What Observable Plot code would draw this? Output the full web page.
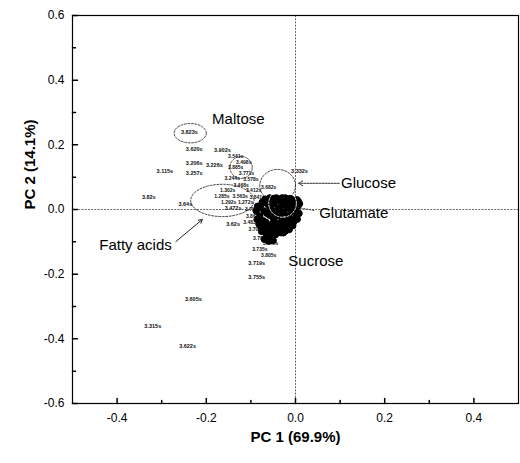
<!DOCTYPE html>
<html>
<head>
<meta charset="utf-8">
<script src="https://cdn.jsdelivr.net/npm/d3@7"></script>
<script src="https://cdn.jsdelivr.net/npm/@observablehq/plot@0.6"></script>
<style>
  html, body { margin: 0; padding: 0; background: #fff; }
  #chart svg { display: block; }
</style>
</head>
<body>
<div id="chart"></div>
<script>
// ---- Axis titles and ticks ----
const xTitle = "PC 1 (69.9%)";
const yTitle = "PC 2 (14.1%)";
const xMajor = [-0.4, -0.2, 0.0, 0.2, 0.4];
const xMinor = [-0.3, -0.1, 0.1, 0.3];
const yMajor = [-0.6, -0.4, -0.2, 0.0, 0.2, 0.4, 0.6];
const yMinor = [-0.5, -0.3, -0.1, 0.1, 0.3, 0.5];

// ---- Labelled loadings (outliers) ----
const outPC1 = [-0.238, -0.227, -0.164, -0.227, -0.293, -0.227, -0.182, -0.329, -0.247, -0.140, 0.009, -0.229, -0.320, -0.242, -0.087, -0.087, -0.140];
const outPC2 = [0.239, 0.186, 0.183, 0.143, 0.118, 0.112, 0.136, 0.037, 0.016, -0.047, 0.118, -0.276, -0.360, -0.422, -0.208, -0.167, 0.005];
const outTxt = ["3.823s", "3.620s", "3.902s", "3.206s", "3.115s", "3.257s", "3.226s", "3.82s", "3.64s", "3.62s", "3.332s", "3.605s", "3.315s", "3.622s", "3.755s", "3.719s", "3.472s"];

// ---- Crowded labelled loadings ----
const midPC1 = [-0.134, -0.116, -0.134, -0.110, -0.142, -0.100, -0.122, -0.152, -0.094, -0.060, -0.124, -0.165, -0.086, -0.150, -0.112, -0.096, -0.094, -0.100, -0.078, -0.056, -0.080, -0.060, -0.088];
const midPC2 = [0.163, 0.146, 0.129, 0.112, 0.095, 0.092, 0.074, 0.058, 0.058, 0.068, 0.041, 0.040, 0.038, 0.022, 0.022, 0.000, -0.022, -0.040, -0.088, -0.106, -0.124, -0.142, -0.062];
const midTxt = ["3.541s", "3.498s", "3.885s", "3.771s", "3.244s", "3.578s", "3.468s", "1.302s", "3.412s", "3.682s", "3.563s", "1.285s", "3.841s", "1.292s", "1.272s", "3.755s", "3.862s", "3.483s", "3.790s", "3.445s", "3.735s", "3.805s", "3.701s"];

// ---- Dense core of loadings near the origin ----
const corePC1 = [-0.085, -0.080, -0.082, -0.075, -0.070, -0.072, -0.068, -0.062, -0.060, -0.058, -0.061, -0.055, -0.050, -0.048, -0.047, -0.049, -0.046, -0.040, -0.038, -0.036, -0.039, -0.034, -0.030, -0.028, -0.026, -0.029, -0.025, -0.020, -0.018, -0.016, -0.019, -0.012, -0.010, -0.008, -0.011, -0.006, -0.003, 0.000, 0.002, 0.005, 0.008, -0.065, -0.055, -0.045, -0.022, -0.014, -0.004, 0.006, -0.032, -0.088, -0.086, -0.078, -0.077, -0.066, -0.064, -0.066, -0.053, -0.054, -0.052, -0.043, -0.043, -0.041, -0.033, -0.032, -0.033, -0.023, -0.022, -0.015, -0.014, -0.007, -0.004, 0.003, 0.004, -0.057, -0.047, -0.027, -0.076, -0.068, -0.058, 0.009, -0.070, -0.060, -0.050];
const corePC2 = [0.010, -0.020, -0.045, 0.022, -0.005, -0.035, -0.060, 0.030, 0.012, -0.018, -0.048, -0.070, 0.034, 0.018, -0.008, -0.030, -0.055, 0.030, 0.005, -0.020, -0.042, -0.065, 0.036, 0.015, -0.010, -0.032, -0.052, 0.028, 0.004, -0.020, -0.043, 0.034, 0.012, -0.008, -0.030, -0.050, 0.022, 0.000, -0.022, 0.010, -0.012, -0.080, -0.084, -0.078, -0.066, -0.062, -0.035, 0.026, -0.072, -0.005, -0.030, 0.005, -0.055, 0.020, -0.012, -0.040, 0.026, 0.000, -0.045, 0.036, -0.018, -0.066, 0.025, -0.005, -0.052, 0.036, -0.038, 0.020, -0.055, 0.030, -0.038, 0.030, -0.030, -0.060, -0.070, -0.072, -0.068, 0.032, 0.036, 0.018, -0.092, -0.098, -0.096];

// ---- Annotations ----
const annTxt = ["Maltose", "Glucose", "Glutamate", "Fatty acids", "Sucrose"];
const annPC1 = [-0.187, 0.102, 0.053, -0.440, -0.016];
const annPC2 = [0.279, 0.081, -0.012, -0.109, -0.161];

// ellipses: centre, radii (data units)
const ellName = ["Maltose", "Maltose2", "Glucose", "Fatty acids", "Glutamate"];
const ellCX = [-0.236, -0.122, -0.040, -0.164, -0.029];
const ellCY = [0.236, 0.130, 0.074, 0.028, 0.019];
const ellRX = [0.036, 0.025, 0.040, 0.071, 0.031];
const ellRY = [0.030, 0.034, 0.050, 0.050, 0.043];
const ellStroke = ["#333", "#333", "#333", "#333", "#fff"];

const outliers = outPC1.map((x, i) => ({x, y: outPC2[i], t: outTxt[i]}));
const mids = midPC1.map((x, i) => ({x, y: midPC2[i], t: midTxt[i]}));
const core = corePC1.map((x, i) => ({x, y: corePC2[i]}));
const anns = annTxt.map((t, i) => ({t, x: annPC1[i], y: annPC2[i]}));

function ellipsePts(k) {
  const pts = [];
  for (let a = 0; a < 64; a++) {
    const th = a / 64 * 2 * Math.PI;
    pts.push({x: ellCX[k] + ellRX[k] * Math.cos(th), y: ellCY[k] + ellRY[k] * Math.sin(th), k});
  }
  return pts;
}
const ellipseMarks = ellName.map((n, k) => Plot.line(ellipsePts(k), {
  x: "x", y: "y", curve: "linear-closed", stroke: ellStroke[k],
  strokeWidth: 0.9, strokeDasharray: "2,1.5"
}));

const tickShape = {draw(ctx, l) { ctx.moveTo(0, 0); ctx.lineTo(0, -l); }};
const fmt = d => d.toFixed(1);

const chart = Plot.plot({
  width: 520,
  height: 463,
  marginLeft: 72,
  marginRight: 2,
  marginTop: 15,
  marginBottom: 60,
  style: {fontFamily: "'Liberation Sans', Arial, sans-serif", background: "#fff", color: "#000"},
  x: {domain: [-0.5, 0.5]},
  y: {domain: [-0.6, 0.6]},
  marks: [
    Plot.ruleX([0], {stroke: "#555", strokeDasharray: "2,1.2", strokeWidth: 0.9}),
    Plot.ruleY([0], {stroke: "#555", strokeDasharray: "2,1.2", strokeWidth: 0.9}),
    ...ellipseMarks.slice(0, 4),
    Plot.text(mids, {x: "x", y: "y", text: "t", fontSize: 5, fontWeight: "bold", fill: "#111"}),
    Plot.dot(core, {x: "x", y: "y", r: 3.2, fill: "#000", stroke: "#000", strokeWidth: 1}),
    Plot.text(outliers, {x: "x", y: "y", text: "t", fontSize: 5.5, fontWeight: "bold", fill: "#111"}),
    ellipseMarks[4],
    Plot.text(anns, {x: "x", y: "y", text: "t", textAnchor: "start", fontSize: 15, fill: "#000"}),
    Plot.arrow([{x1: 0.098, y1: 0.081, x2: 0.007, y2: 0.081}], {x1: "x1", y1: "y1", x2: "x2", y2: "y2", stroke: "#333", strokeWidth: 1, strokeDasharray: "2,1", headLength: 7}),
    Plot.link([{x1: 0.042, y1: -0.003, x2: 0.006, y2: 0.006}], {x1: "x1", y1: "y1", x2: "x2", y2: "y2", stroke: "#333", strokeWidth: 1, strokeDasharray: "2,1"}),
    Plot.arrow([{x1: -0.268, y1: -0.099, x2: -0.209, y2: -0.031}], {x1: "x1", y1: "y1", x2: "x2", y2: "y2", stroke: "#222", strokeWidth: 1, headLength: 6}),
    Plot.frame({stroke: "#000", strokeWidth: 1.2}),
    Plot.vector(xMajor, {x: d => d, frameAnchor: "bottom", length: 5, anchor: "start", shape: tickShape, stroke: "#000"}),
    Plot.vector(xMinor, {x: d => d, frameAnchor: "bottom", length: 3, anchor: "start", shape: tickShape, stroke: "#000"}),
    Plot.vector(yMajor, {y: d => d, frameAnchor: "left", length: 5, rotate: 90, anchor: "start", shape: tickShape, stroke: "#000"}),
    Plot.vector(yMinor, {y: d => d, frameAnchor: "left", length: 3, rotate: 90, anchor: "start", shape: tickShape, stroke: "#000"}),
    Plot.axisX(xMajor, {tickSize: 0, tickPadding: 10, tickFormat: fmt, label: null, fontSize: 12}),
    Plot.axisY(yMajor, {tickSize: 0, tickPadding: 8, tickFormat: fmt, label: null, fontSize: 12}),
    Plot.text([xTitle], {frameAnchor: "bottom", dy: 38, fontSize: 15, fontWeight: "bold", fill: "#000"}),
    Plot.text([yTitle], {frameAnchor: "left", dx: -42, rotate: -90, fontSize: 15, fontWeight: "bold", fill: "#000"})
  ]
});
document.getElementById("chart").appendChild(chart);
</script>
</body>
</html>
